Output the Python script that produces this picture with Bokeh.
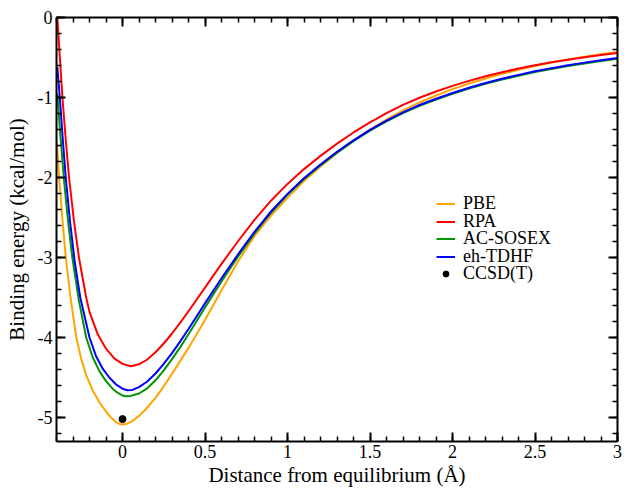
import numpy as np
from bokeh.plotting import figure
from bokeh.models import (LinearAxis, FixedTicker, Range1d, Legend, LegendItem,
                          CustomLabelingPolicy)
from bokeh.embed import file_html
from bokeh.resources import INLINE

# ---- data ----
pbe_x = [-0.398, -0.384, -0.365, -0.344, -0.315, -0.28, -0.25, -0.22, -0.18, -0.14, -0.1,
         -0.07, -0.04, -0.01, 0.02, 0.06, 0.1, 0.14, 0.2, 0.25, 0.3, 0.4, 0.5, 0.6, 0.7, 0.8,
         0.9, 1.0, 1.1, 1.2, 1.3, 1.4, 1.5, 1.6, 1.7, 1.8, 1.9, 2.0, 2.1, 2.2, 2.3, 2.4, 2.5,
         2.6, 2.7, 2.8, 2.9, 3.0]
pbe_y = [-1.55, -2.0, -2.5, -3.0, -3.5, -4.0, -4.27, -4.47, -4.665, -4.81, -4.925,
         -5.0, -5.055, -5.088, -5.082, -5.045, -4.98, -4.9, -4.755, -4.61, -4.455, -4.13,
         -3.78, -3.41, -3.05, -2.73, -2.475, -2.255, -2.045, -1.862, -1.692, -1.542, -1.402,
         -1.275, -1.162, -1.062, -0.975, -0.895, -0.825, -0.762, -0.705, -0.653, -0.606,
         -0.563, -0.524, -0.489, -0.458, -0.43]

rpa_x = [-0.395, -0.38, -0.364, -0.345, -0.324, -0.295, -0.264, -0.22, -0.2, -0.15, -0.1,
         -0.05, 0.0, 0.05, 0.1, 0.15, 0.2, 0.25, 0.3, 0.35, 0.4, 0.5, 0.6, 0.7, 0.8, 0.9,
         1.0, 1.1, 1.2, 1.3, 1.4, 1.5, 1.6, 1.7, 1.8, 1.9, 2.0, 2.1, 2.2, 2.3, 2.4, 2.5,
         2.6, 2.7, 2.8, 2.9, 3.0]
rpa_y = [0.0, -0.49, -1.0, -1.5, -2.0, -2.53, -3.0, -3.5, -3.68, -3.96, -4.14,
         -4.26, -4.33, -4.36, -4.335, -4.275, -4.185, -4.075, -3.95, -3.815, -3.672, -3.377,
         -3.08, -2.797, -2.53, -2.29, -2.08, -1.895, -1.73, -1.577, -1.437, -1.31, -1.195,
         -1.093, -1.003, -0.925, -0.855, -0.792, -0.735, -0.684, -0.638, -0.597, -0.56,
         -0.527, -0.497, -0.47, -0.445]

sosex_x = [-0.395, -0.38, -0.356, -0.33, -0.304, -0.265, -0.22, -0.18, -0.14, -0.1, -0.06,
           -0.03, 0.0, 0.02, 0.05, 0.1, 0.15, 0.2, 0.25, 0.3, 0.35, 0.4, 0.5, 0.6, 0.7, 0.8,
           0.9, 1.0, 1.1, 1.2, 1.3, 1.4, 1.5, 1.6, 1.7, 1.8, 1.9, 2.0, 2.1, 2.2, 2.3, 2.4,
           2.5, 2.6, 2.7, 2.8, 2.9, 3.0]
sosex_y = [-0.95, -1.38, -2.0, -2.55, -3.0, -3.53, -4.0, -4.25, -4.42, -4.545, -4.64,
           -4.69, -4.725, -4.735, -4.73, -4.70, -4.635, -4.535, -4.41, -4.27, -4.12, -3.96,
           -3.625, -3.30, -2.99, -2.70, -2.44, -2.215, -2.02, -1.848, -1.689, -1.545, -1.415,
           -1.298, -1.195, -1.104, -1.025, -0.953, -0.888, -0.829, -0.776, -0.727, -0.683,
           -0.643, -0.607, -0.574, -0.544, -0.517]

tdhf_x = [-0.395, -0.38, -0.362, -0.344, -0.318, -0.29, -0.256, -0.2, -0.16, -0.12, -0.08,
          -0.04, 0.0, 0.03, 0.06, 0.1, 0.15, 0.2, 0.25, 0.3, 0.35, 0.4, 0.5, 0.6, 0.7, 0.8,
          0.9, 1.0, 1.1, 1.2, 1.3, 1.4, 1.5, 1.6, 1.7, 1.8, 1.9, 2.0, 2.1, 2.2, 2.3, 2.4,
          2.5, 2.6, 2.7, 2.8, 2.9, 3.0]
tdhf_y = [-0.62, -1.0, -1.52, -2.0, -2.55, -3.05, -3.5, -4.0, -4.235, -4.39, -4.50,
          -4.585, -4.64, -4.66, -4.655, -4.62, -4.55, -4.45, -4.33, -4.195, -4.048, -3.893,
          -3.573, -3.26, -2.962, -2.68, -2.425, -2.205, -2.01, -1.838, -1.679, -1.535, -1.405,
          -1.288, -1.185, -1.094, -1.015, -0.943, -0.878, -0.819, -0.766, -0.717, -0.673,
          -0.633, -0.597, -0.564, -0.534, -0.507]

ccsd_x = [0.0]
ccsd_y = [-5.02]

series_labels = ["PBE", "RPA", "AC-SOSEX", "eh-TDHF", "CCSD(T)"]

x_ticks = [0, 0.5, 1, 1.5, 2, 2.5, 3]
x_tick_labels = ["0", "0.5", "1", "1.5", "2", "2.5", "3"]
y_ticks = [0, -1, -2, -3, -4, -5]
y_tick_labels = ["0", "-1", "-2", "-3", "-4", "-5"]

FONT = "Liberation Serif"

p = figure(width=624, height=489, output_backend="svg", toolbar_location=None,
           x_range=Range1d(-0.4, 3.0), y_range=Range1d(-5.3, 0.0),
           min_border_left=56, min_border_right=7, min_border_top=17, min_border_bottom=48,
           background_fill_color="white", border_fill_color="white")
p.grid.visible = False
p.outline_line_color = None

x_minor = [round(v, 2) for v in np.arange(-0.4, 3.0001, 0.1)]
y_minor = [round(v, 2) for v in np.arange(-5.2, 0.0001, 0.2)]
x_over = {float(v): s for v, s in zip(x_ticks, x_tick_labels)}
y_over = {float(v): s for v, s in zip(y_ticks, y_tick_labels)}


def style_axis(ax, labels=True):
    ax.axis_line_width = 2
    ax.axis_line_color = "black"
    ax.major_tick_in = 9
    ax.major_tick_out = 0
    ax.minor_tick_in = 5
    ax.minor_tick_out = 0
    ax.major_tick_line_width = 2
    ax.minor_tick_line_width = 1.5
    ax.major_tick_line_color = "black"
    ax.minor_tick_line_color = "black"
    if labels:
        ax.major_label_text_font = FONT
        ax.major_label_text_font_size = "18px"
        ax.major_label_text_color = "black"
        ax.axis_label_text_font = FONT
        ax.axis_label_text_font_size = "21px"
        ax.axis_label_text_font_style = "normal"
        ax.axis_label_text_color = "black"
    else:
        ax.major_label_text_font_size = "0px"
        ax.major_label_policy = CustomLabelingPolicy(code="return []")
        ax.major_label_standoff = 0


xa = p.xaxis[0]
xa.ticker = FixedTicker(ticks=x_ticks, minor_ticks=x_minor)
xa.major_label_overrides = x_over
xa.axis_label = "Distance from equilibrium (Å)"
style_axis(xa)
xa.major_label_standoff = 3
xa.axis_label_standoff = 2

ya = p.yaxis[0]
ya.ticker = FixedTicker(ticks=y_ticks, minor_ticks=y_minor)
ya.major_label_overrides = y_over
ya.axis_label = "Binding energy (kcal/mol)"
style_axis(ya)
ya.major_label_standoff = 4
ya.axis_label_standoff = 6

top = LinearAxis(ticker=FixedTicker(ticks=x_ticks, minor_ticks=x_minor))
style_axis(top, labels=False)
p.add_layout(top, "above")
right = LinearAxis(ticker=FixedTicker(ticks=y_ticks, minor_ticks=y_minor))
style_axis(right, labels=False)
p.add_layout(right, "right")

r_pbe = p.line(pbe_x, pbe_y, line_color="#FFA500", line_width=2)
r_rpa = p.line(rpa_x, rpa_y, line_color="#FF0000", line_width=2)
r_sosex = p.line(sosex_x, sosex_y, line_color="#009400", line_width=2)
r_tdhf = p.line(tdhf_x, tdhf_y, line_color="#0000FF", line_width=2)
r_ccsd = p.scatter(ccsd_x, ccsd_y, size=7, fill_color="black", line_color="black")

renderers = [r_pbe, r_rpa, r_sosex, r_tdhf, r_ccsd]
row_step = 17.5
first_y = 227
for i, (lab, rr) in enumerate(zip(series_labels, renderers)):
    lg = Legend(items=[LegendItem(label=lab, renderers=[rr])],
                location=(380, first_y - i * row_step))
    lg.border_line_color = None
    lg.background_fill_alpha = 0
    lg.label_text_font = FONT
    lg.label_text_font_size = "18px"
    lg.label_text_color = "black"
    lg.glyph_width = 19
    lg.glyph_height = 15
    lg.label_height = 15
    lg.label_standoff = 8
    lg.spacing = 0
    lg.padding = 0
    lg.margin = 0
    p.add_layout(lg, "center")

open("out.html", "w").write(file_html(p, INLINE))
